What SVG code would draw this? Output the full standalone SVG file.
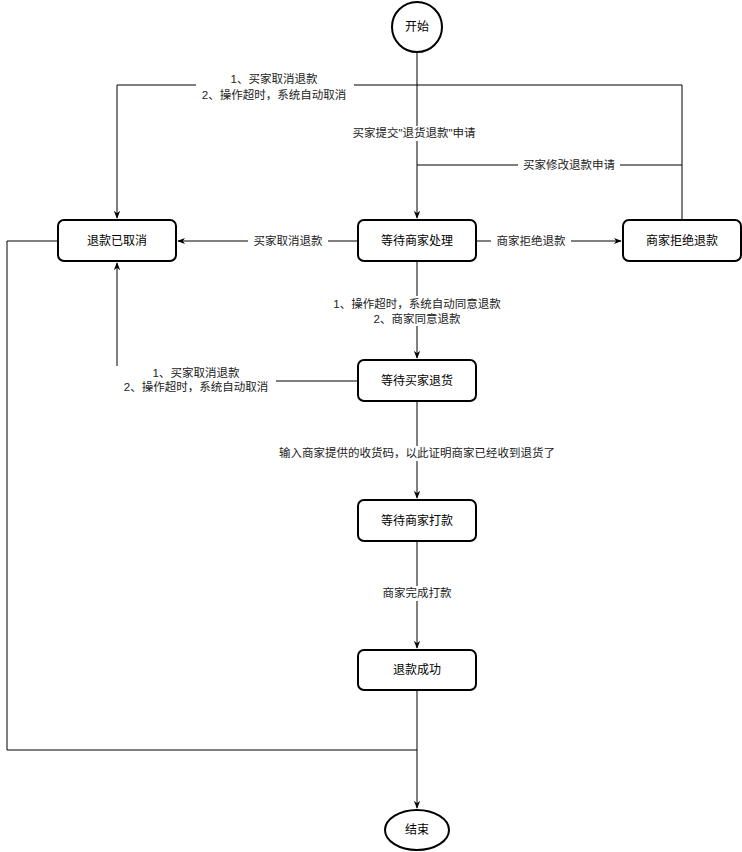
<svg xmlns="http://www.w3.org/2000/svg" width="742" height="852" viewBox="0 0 742 852">
<style>
.n{fill:#fff;stroke:#000;stroke-width:2}
.t{font-family:"Liberation Sans","Noto Sans CJK SC",sans-serif;font-size:12px;text-anchor:middle;fill:#000;font-weight:normal}
.l{font-family:"Liberation Sans","Noto Sans CJK SC",sans-serif;font-size:11.5px;text-anchor:middle;fill:#222}
.e{fill:none;stroke:#000;stroke-width:1}
.bg{fill:#fff}
</style>
<defs><marker id="a" viewBox="0 0 10 10" refX="9" refY="5" markerWidth="8" markerHeight="8" orient="auto"><path d="M0,1 L10,5 L0,9 L3,5 Z" fill="#000"/></marker></defs>
<rect width="742" height="852" fill="#fff"/>
<g id="edges">
<path class="e" d="M417,52 V218" marker-end="url(#a)"/>
<path class="e" d="M682,220 V85 H117 V218" marker-end="url(#a)"/>
<path class="e" d="M682,165 H417"/>
<path class="e" d="M358,241 H178" marker-end="url(#a)"/>
<path class="e" d="M476,241 H621" marker-end="url(#a)"/>
<path class="e" d="M417,261 V358" marker-end="url(#a)"/>
<path class="e" d="M358,381 H117 V263" marker-end="url(#a)"/>
<path class="e" d="M417,401 V498" marker-end="url(#a)"/>
<path class="e" d="M417,541 V648" marker-end="url(#a)"/>
<path class="e" d="M58,241 H7 V750 H417"/>
<path class="e" d="M417,690 V808" marker-end="url(#a)"/>
<rect class="bg" x="196" y="73" width="158" height="30"/>
<text class="l" x="274" y="83">1、买家取消退款</text><text class="l" x="274" y="99">2、操作超时，系统自动取消</text>
<rect class="bg" x="347" y="126" width="134" height="15"/>
<text class="l" x="414" y="137">买家提交"退货退款"申请</text>
<rect class="bg" x="518" y="158" width="102" height="15"/>
<text class="l" x="569" y="169">买家修改退款申请</text>
<rect class="bg" x="248" y="234" width="80" height="15"/>
<text class="l" x="288" y="245">买家取消退款</text>
<rect class="bg" x="491" y="234" width="80" height="15"/>
<text class="l" x="531" y="245">商家拒绝退款</text>
<rect class="bg" x="326" y="296" width="182" height="30"/>
<text class="l" x="417" y="308">1、操作超时，系统自动同意退款</text><text class="l" x="417" y="323">2、商家同意退款</text>
<rect class="bg" x="116" y="366" width="160" height="30"/>
<text class="l" x="196" y="377">1、买家取消退款</text><text class="l" x="196" y="391">2、操作超时，系统自动取消</text>
<rect class="bg" x="270" y="446" width="296" height="15"/>
<text class="l" x="417" y="457">输入商家提供的收货码，以此证明商家已经收到退货了</text>
<rect class="bg" x="376" y="586" width="82" height="15"/>
<text class="l" x="417" y="597">商家完成打款</text>
</g>
<g id="start"><circle class="n" cx="417" cy="27" r="25"/><text class="t" x="417" y="31">开始</text></g>
<g id="cancelled"><rect class="n" x="58" y="220" width="118" height="41" rx="6"/><text class="t" x="117" y="245">退款已取消</text></g>
<g id="waitMerchant"><rect class="n" x="358" y="220" width="118" height="41" rx="6"/><text class="t" x="417" y="245">等待商家处理</text></g>
<g id="rejected"><rect class="n" x="623" y="220" width="118" height="41" rx="6"/><text class="t" x="682" y="245">商家拒绝退款</text></g>
<g id="waitReturn"><rect class="n" x="358" y="360" width="118" height="41" rx="6"/><text class="t" x="417" y="385">等待买家退货</text></g>
<g id="waitPay"><rect class="n" x="358" y="500" width="118" height="41" rx="6"/><text class="t" x="417" y="525">等待商家打款</text></g>
<g id="success"><rect class="n" x="358" y="650" width="118" height="40" rx="6"/><text class="t" x="417" y="674">退款成功</text></g>
<g id="end"><ellipse class="n" cx="417" cy="830" rx="32" ry="20"/><text class="t" x="417" y="834">结束</text></g>
</svg>
